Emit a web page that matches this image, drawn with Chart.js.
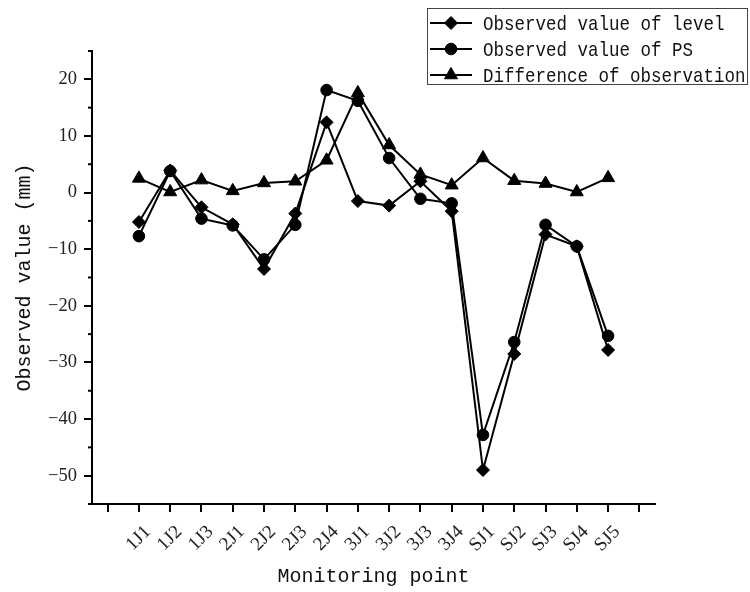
<!DOCTYPE html>
<html>
<head>
<meta charset="utf-8">
<script src="https://cdn.jsdelivr.net/npm/chart.js@4.4.1/dist/chart.umd.min.js"></script>
<style>
  html, body { margin: 0; padding: 0; background: #fff; }
  canvas { display: block; }
</style>
</head>
<body>
<canvas id="chart" width="750" height="592"></canvas>
<script>
// monitoring points and the three series (mm)
var points = ['1J1', '1J2', '1J3', '2J1', '2J2', '2J3', '2J4', '3J1', '3J2', '3J3', '3J4', 'SJ1', 'SJ2', 'SJ3', 'SJ4', 'SJ5'];
var levelValues = [-5.2, 3.9, -2.6, -5.6, -13.5, -3.7, 12.4, -1.5, -2.3, 2.0, -3.3, -49.0, -28.5, -7.4, -9.5, -27.8];
var psValues = [-7.7, 3.8, -4.6, -5.8, -11.8, -5.7, 18.1, 16.2, 6.1, -1.1, -1.9, -42.8, -26.4, -5.7, -9.5, -25.3];
var diffValues = [2.5, 0.1, 2.2, 0.3, 1.7, 2.0, 5.7, 17.6, 8.4, 3.2, 1.3, 6.1, 2.1, 1.6, 0.1, 2.6];
var yTicks = [-50, -40, -30, -20, -10, 0, 10, 20];

function toXY(values) {
  return values.map(function (v, i) { return { x: i, y: v }; });
}

function series(label, values, style, radius) {
  return {
    label: label,
    data: toXY(values),
    borderColor: '#000',
    backgroundColor: '#000',
    borderWidth: 2,
    tension: 0,
    pointStyle: style,
    pointRadius: radius,
    pointBorderWidth: 1,
    pointBackgroundColor: '#000',
    pointBorderColor: '#000'
  };
}

// short unlabeled ticks at the odd fives on the y axis
var minorTicks = {
  id: 'minorTicks',
  afterDraw: function (chart) {
    var y = chart.scales.y, ctx = chart.ctx;
    ctx.save();
    ctx.strokeStyle = '#000';
    ctx.lineWidth = 2;
    for (var v = y.min; v <= y.max; v += 10) {
      var py = y.getPixelForValue(v);
      ctx.beginPath();
      ctx.moveTo(y.right - 4, py);
      ctx.lineTo(y.right, py);
      ctx.stroke();
    }
    ctx.restore();
  }
};

// boxed legend in the top right corner, line + marker like the original
var boxLegend = {
  id: 'boxLegend',
  afterDraw: function (chart) {
    var ctx = chart.ctx;
    ctx.save();
    ctx.fillStyle = '#fff';
    ctx.fillRect(427, 8, 321, 77);
    ctx.strokeStyle = '#444';
    ctx.lineWidth = 1;
    ctx.strokeRect(427.5, 8.5, 320, 76);
    chart.data.datasets.forEach(function (ds, i) {
      var cy = 23 + i * 26;
      ctx.strokeStyle = '#000';
      ctx.fillStyle = '#000';
      ctx.lineWidth = 2;
      ctx.beginPath();
      ctx.moveTo(430, cy);
      ctx.lineTo(472, cy);
      ctx.stroke();
      ctx.lineWidth = 1;
      Chart.helpers.drawPoint(ctx, { pointStyle: ds.pointStyle, radius: ds.pointRadius, rotation: 0, borderWidth: 1 }, 451, cy);
      ctx.save();
      ctx.translate(483, cy + 1);
      ctx.scale(0.833, 1);
      ctx.font = '21px "Liberation Mono"';
      ctx.textBaseline = 'middle';
      ctx.fillStyle = '#111';
      ctx.fillText(ds.label, 0, 0);
      ctx.restore();
    });
    ctx.restore();
  }
};

var chart = new Chart(document.getElementById('chart'), {
  type: 'line',
  data: {
    datasets: [
      series('Observed value of level', levelValues, 'rectRot', 6.5),
      series('Observed value of PS', psValues, 'circle', 5.8),
      series('Difference of observation', diffValues, 'triangle', 7.5)
    ]
  },
  options: {
    responsive: false,
    animation: false,
    layout: { padding: { left: 0, top: 51, right: 95, bottom: 0 } },
    plugins: { legend: { display: false }, tooltip: { enabled: false } },
    scales: {
      x: {
        type: 'linear',
        min: -1.5,
        max: points.length + 0.5,
        afterBuildTicks: function (s) {
          var t = [];
          for (var i = -1; i <= points.length; i++) t.push({ value: i });
          s.ticks = t;
        },
        afterFit: function (s) { s.height = 88; },
        grid: { drawOnChartArea: false, drawTicks: true, tickLength: 8, color: '#000', lineWidth: 2 },
        border: { display: true, color: '#000', width: 2 },
        ticks: {
          autoSkip: false,
          minRotation: 45,
          maxRotation: 45,
          labelOffset: 9,
          padding: 9,
          color: '#222',
          font: { family: 'Liberation Serif', size: 19 },
          callback: function (v) { return points[v] || ''; }
        },
        title: {
          display: true,
          text: 'Monitoring point',
          color: '#111',
          font: { family: 'Liberation Mono', size: 20 },
          padding: { top: 0, bottom: 3 }
        }
      },
      y: {
        min: -55,
        max: 25,
        afterBuildTicks: function (s) {
          s.ticks = yTicks.map(function (v) { return { value: v }; });
        },
        afterFit: function (s) { s.width = 92; },
        grid: { drawOnChartArea: false, drawTicks: true, tickLength: 8, color: '#000', lineWidth: 2 },
        border: { display: true, color: '#000', width: 2 },
        ticks: {
          padding: 7,
          color: '#222',
          font: { family: 'Liberation Serif', size: 18.5 },
          callback: function (v) { return v < 0 ? '\u2212' + Math.abs(v) : String(v); }
        },
        title: {
          display: true,
          text: 'Observed value (mm)',
          color: '#111',
          font: { family: 'Liberation Mono', size: 20 },
          padding: { top: 13, bottom: 0 }
        }
      }
    }
  },
  plugins: [minorTicks, boxLegend]
});
</script>
</body>
</html>
